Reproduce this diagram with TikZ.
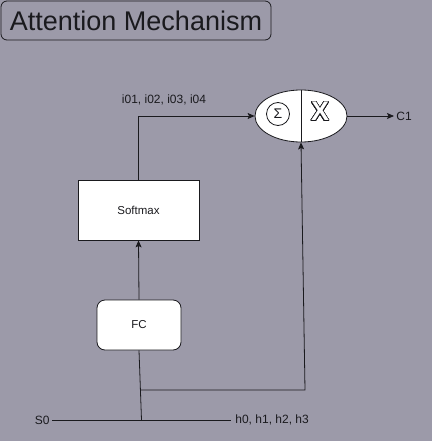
\documentclass[tikz,border=0pt]{standalone}
\usepackage{fontspec}
\setmainfont{Liberation Sans}
\usepackage{contour}
\usetikzlibrary{arrows.meta,shapes.geometric}
\definecolor{bg}{RGB}{156,154,169}
\definecolor{ink}{RGB}{26,26,30}
\tikzset{
  arr/.style={-{Stealth[length=7pt,width=6pt,inset=1.5pt]}},
  lbl/.style={text=ink,font=\fontsize{12}{14}\selectfont,inner sep=2pt},
  whitebox/.style={draw=ink,fill=white,line width=0.8pt,text=ink,font=\fontsize{11.5}{13}\selectfont},
}
\contourlength{0.6pt}
\contournumber{32}
\begin{document}
\begin{tikzpicture}[x=1pt,y=-1pt,line width=0.8pt,draw=ink]
\fill[bg] (0,0) rectangle (432,441);
\useasboundingbox (0,0) rectangle (432,441);
% title
\node[draw=ink,rounded corners=6pt,minimum width=270pt,minimum height=39pt,inner sep=0pt,text=ink,
      font=\fontsize{27}{30}\selectfont] (title) at (136,20.5) {Attention Mechanism};
% ellipse
\node[ellipse,draw=ink,fill=white,minimum width=92pt,minimum height=52pt,inner sep=0pt] (ell) at (301,116) {};
\draw (ell.north) -- (ell.south);
\node[circle,draw=ink,minimum size=23pt,inner sep=0pt,text=ink,font=\fontsize{14}{16}\selectfont] (sig) at (278,114) {Σ};
\node[inner sep=0pt,font=\fontsize{27}{30}\selectfont\bfseries] (mul) at (320,112) {\contour{ink}{\textcolor{white}{X}}};
% boxes
\node[whitebox,minimum width=121pt,minimum height=60pt,inner sep=0pt] (soft) at (138.5,210) {Softmax};
\node[whitebox,rounded corners=8pt,minimum width=84pt,minimum height=50pt,inner sep=0pt] (fc) at (139,325) {FC};
% labels
\node[lbl] (ilbl) at (164,100) {i01, i02, i03, i04};
\node[lbl,anchor=west] (c1) at (394,116) {C1};
\node[lbl,anchor=east] (s0) at (52,420) {S0};
\node[lbl,anchor=west,inner sep=4pt] (h) at (231,420) {h0, h1, h2, h3};
% junctions
\coordinate (jb) at (141.5,420);
\coordinate (jm) at (141.1,390);
\coordinate (jr) at (305,390);
% connectors
\draw[arr] (soft.north) |- (ell.west);
\draw[arr] (ell.east) -- (c1.west);
\draw[arr] (fc.north) -- (soft.south);
\draw (s0.east) -- (h.west);
\draw (jb) -- (fc.south);
\draw[arr] (jm) -- (jr) -- (ell.south);
\end{tikzpicture}
\end{document}
